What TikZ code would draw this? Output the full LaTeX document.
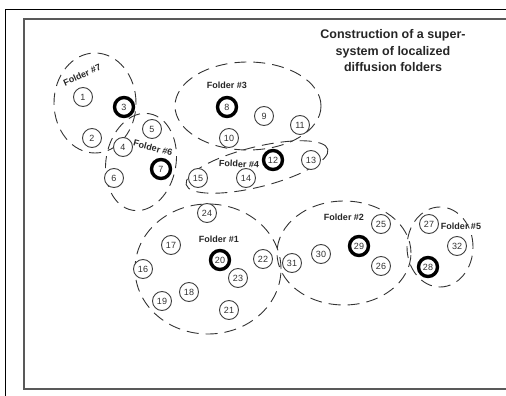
\documentclass[tikz,border=0pt]{standalone}
\usepackage{fontspec}
\setmainfont{Liberation Sans}
\begin{document}
\begin{tikzpicture}[x=1pt,y=-1pt,
  site/.style={circle,draw=black!75,line width=0.9pt,fill=white,minimum size=19pt,
    inner sep=0pt,font=\fontsize{9}{9}\selectfont,text=black!80},
  hub/.style={site,draw=black,line width=3.4pt},
  folder/.style={draw=black!80,line width=0.9pt,dash pattern=on 12pt off 7pt},
  flabel/.style={font=\bfseries\fontsize{9}{10}\selectfont,text=black!85,inner sep=0pt},
]
\useasboundingbox (0,0) rectangle (506,396);

% frames
\draw[line width=0.8pt] (5.5,396) -- (5.5,9.7) -- (506,9.7);
\draw[black!65,line width=1.6pt] (506,19) -- (24,19) -- (24,389) -- (506,389);

% folder boundaries
\draw[folder] (95,103) ellipse [x radius=41pt, y radius=50pt];
\draw[folder, rotate around={-10:(141,162)}] (141,162) ellipse [x radius=35pt, y radius=49pt];
\draw[folder] (248,106) ellipse [x radius=73pt, y radius=44pt];
\draw[folder, rotate around={14:(257,167)}] (257,167) ellipse [x radius=73pt, y radius=20pt];
\draw[folder] (208,269) ellipse [x radius=73pt, y radius=65pt];
\draw[folder] (344,253) ellipse [x radius=67pt, y radius=52pt];
\draw[folder] (440,247) ellipse [x radius=33pt, y radius=40pt];

% sites
\node[site] (n1)  at (83,97)   {1};
\node[site] (n2)  at (92,138)  {2};
\node[hub]  (n3)  at (124,107) {3};
\node[site] (n4)  at (123,147) {4};
\node[site] (n5)  at (152,129) {5};
\node[site] (n6)  at (114,178) {6};
\node[hub]  (n7)  at (161,169) {7};
\node[hub]  (n8)  at (227,107) {8};
\node[site] (n9)  at (264,116) {9};
\node[site] (n10) at (229,138) {10};
\node[site] (n11) at (300,125) {11};
\node[hub]  (n12) at (273,160) {12};
\node[site] (n13) at (311,160) {13};
\node[site] (n14) at (246,178) {14};
\node[site] (n15) at (198,178) {15};
\node[site] (n16) at (143,269) {16};
\node[site] (n17) at (171,245) {17};
\node[site] (n18) at (189,292) {18};
\node[site] (n19) at (162,301) {19};
\node[hub]  (n20) at (220,260) {20};
\node[site] (n21) at (229,310) {21};
\node[site] (n22) at (263,259) {22};
\node[site] (n23) at (238,278) {23};
\node[site] (n24) at (207,213) {24};
\node[site] (n25) at (381,224) {25};
\node[site] (n26) at (381,266) {26};
\node[site] (n27) at (429,224) {27};
\node[hub]  (n28) at (428,267) {28};
\node[hub]  (n29) at (359,246) {29};
\node[site] (n30) at (321,254) {30};
\node[site] (n31) at (292,263) {31};
\node[site] (n32) at (457,246) {32};

% folder labels
\node[flabel,rotate=24]  (f7) at (82,75)   {Folder \#7};
\node[flabel,rotate=-15] (f6) at (153,148) {Folder \#6};
\node[flabel]            (f3) at (227,85)  {Folder \#3};
\node[flabel,rotate=-3]  (f4) at (239,164) {Folder \#4};
\node[flabel]            (f1) at (219,239) {Folder \#1};
\node[flabel]            (f2) at (344,217) {Folder \#2};
\node[flabel]            (f5) at (461,226) {Folder \#5};

% title
\node[font=\bfseries\fontsize{12.5}{16.5}\selectfont,align=center,text=black!85]
  (title) at (393,51) {Construction of a super-\\system of localized\\diffusion folders};
\end{tikzpicture}
\end{document}
